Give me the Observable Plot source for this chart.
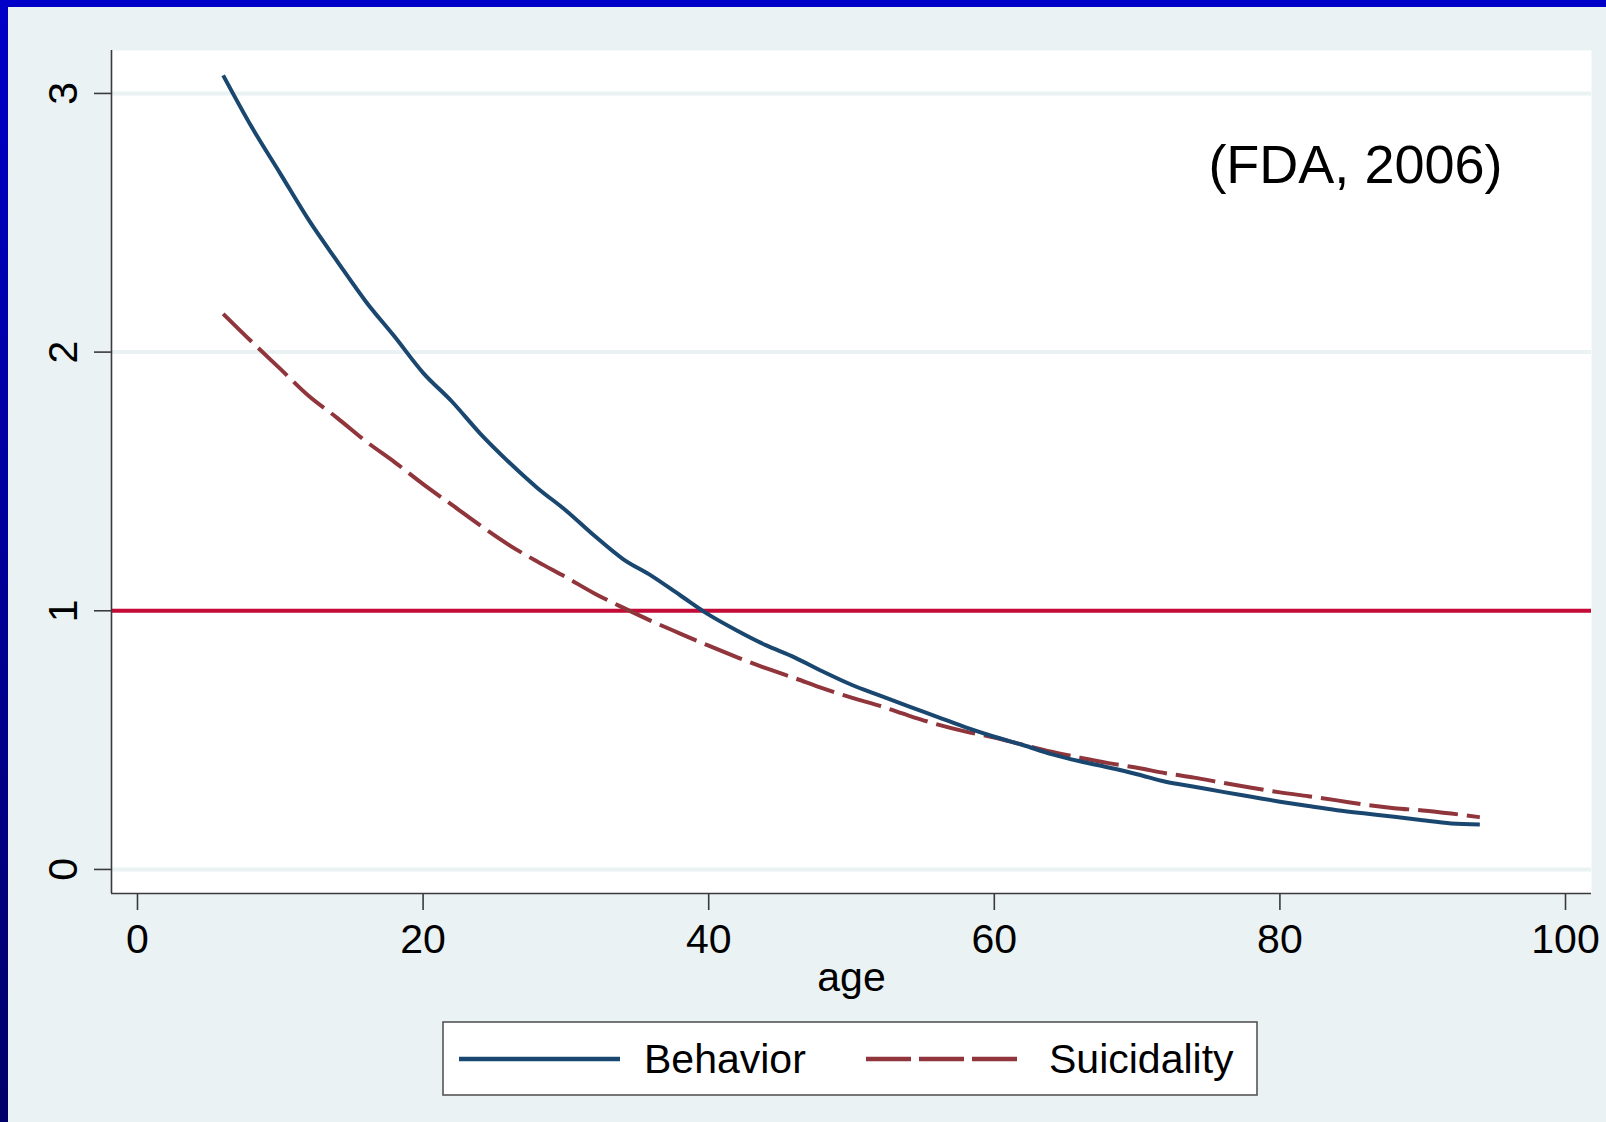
<!DOCTYPE html>
<html>
<head>
<meta charset="utf-8">
<script src="https://cdn.jsdelivr.net/npm/d3@7"></script>
<script src="https://cdn.jsdelivr.net/npm/@observablehq/plot@0.6"></script>
<style>
  html, body { margin: 0; padding: 0; }
  body {
    width: 1606px; height: 1122px; overflow: hidden; position: relative;
    background: linear-gradient(to bottom, #0000c8, #00006a);
    font-family: "Liberation Sans", Arial, sans-serif;
  }
  #panel { position: absolute; left: 8px; top: 7px; width: 1598px; height: 1115px; background: #eaf2f3; }
  #chart { position: absolute; left: 0; top: 0; }
  #legend { position: absolute; left: 0; top: 0; pointer-events: none; }
</style>
</head>
<body>
<div id="panel">
  <div id="chart"></div>
  <svg id="legend" width="1598" height="1115"></svg>
</div>
<script>
// ---- data ----
const ages = [6, 8, 10, 12, 14, 16, 18, 20, 22, 24, 26, 28, 30, 32, 34, 36, 38, 40, 42, 44, 46, 48,
              50, 52, 54, 56, 58, 60, 62, 64, 66, 68, 70, 72, 74, 76, 78, 80, 82, 84, 86, 88, 90, 92, 94];
const behavior = [3.07, 2.87, 2.69, 2.51, 2.35, 2.195, 2.06, 1.92, 1.81, 1.685, 1.575, 1.475, 1.388, 1.29,
                  1.20, 1.135, 1.06, 0.985, 0.923, 0.867, 0.820, 0.765, 0.714, 0.672, 0.630, 0.590, 0.549,
                  0.513, 0.481, 0.446, 0.418, 0.394, 0.368, 0.339, 0.320, 0.300, 0.281, 0.262, 0.245, 0.229,
                  0.216, 0.204, 0.190, 0.178, 0.174];
const suicidality = [2.148, 2.04, 1.935, 1.83, 1.745, 1.655, 1.575, 1.49, 1.41, 1.33, 1.255, 1.19, 1.13, 1.067,
                     1.012, 0.960, 0.912, 0.865, 0.820, 0.778, 0.740, 0.700, 0.664, 0.632, 0.595, 0.561, 0.533,
                     0.510, 0.482, 0.455, 0.432, 0.411, 0.393, 0.372, 0.355, 0.335, 0.316, 0.298, 0.283, 0.267,
                     0.250, 0.237, 0.228, 0.216, 0.202];
const seriesNames = ["Behavior", "Suicidality"];
const xTicks = [0, 20, 40, 60, 80, 100];
const yTicks = [0, 1, 2, 3];
const referenceValue = [1];
const xLabel = "age";
const note = "(FDA, 2006)";

// ---- styles ----
const colors = {Behavior: "#1a476f", Suicidality: "#90353b"};
const dashes = {Behavior: null, Suicidality: "40,9"};
const xDomain = [-1.82, 101.82];
const yDomain = [-0.093, 3.166];
const font = "'Liberation Sans', Arial, Helvetica, sans-serif";

const rows = [];
ages.forEach((a, i) => {
  rows.push({age: a, value: behavior[i], series: seriesNames[0]});
  rows.push({age: a, value: suicidality[i], series: seriesNames[1]});
});

const lineMarks = seriesNames.slice().reverse().map(name =>
  Plot.line(rows.filter(d => d.series === name), {
    x: "age", y: "value", stroke: colors[name], strokeWidth: 4,
    strokeDasharray: dashes[name] || undefined, strokeLinejoin: "round", strokeLinecap: "butt",
    curve: "monotone-x"
  })
);

const chart = Plot.plot({
  width: 1598,
  height: 1010,
  marginLeft: 103,
  marginRight: 15,
  marginTop: 43,
  marginBottom: 124,
  style: {background: "transparent", fontFamily: font, overflow: "visible"},
  x: {domain: xDomain, axis: null},
  y: {domain: yDomain, axis: null},
  marks: [
    Plot.frame({fill: "white", stroke: null}),
    Plot.ruleY(yTicks, {stroke: "#eaf2f3", strokeWidth: 4}),
    Plot.ruleY(referenceValue, {stroke: "#c50a38", strokeWidth: 4}),
    ...lineMarks,
    Plot.ruleX([xDomain[0]], {stroke: "#3a3a3a", strokeWidth: 1.6}),
    Plot.ruleY([yDomain[0]], {stroke: "#3a3a3a", strokeWidth: 1.6}),
    Plot.axisX(xTicks, {tickSize: 17, tickPadding: 13, fontSize: 41, stroke: "#3a3a3a", strokeWidth: 1.6,
                        fill: "black", label: null, tickFormat: d => String(d)}),
    Plot.axisY(yTicks, {tickSize: 17, stroke: "#3a3a3a", strokeWidth: 1.6, tickFormat: () => "", label: null}),
    Plot.text(yTicks, {y: d => d, frameAnchor: "left", dx: -48, rotate: -90, text: d => String(d),
                       fontSize: 41, fill: "black", textAnchor: "middle", lineAnchor: "middle"}),
    Plot.text([xLabel], {frameAnchor: "bottom", dy: 97, text: d => d, fontSize: 41, fill: "black",
                         lineAnchor: "bottom"}),
    Plot.text([note], {frameAnchor: "top-right", dx: -89, dy: 132, text: d => d, fontSize: 54,
                       fill: "black", textAnchor: "end", lineAnchor: "bottom"})
  ]
});
document.getElementById("chart").appendChild(chart);

// ---- legend (below the plot) ----
const lg = d3.select("#legend").style("font-family", font);
lg.append("rect").attr("x", 435).attr("y", 1015).attr("width", 814).attr("height", 73)
  .attr("fill", "white").attr("stroke", "#555").attr("stroke-width", 1.6);
const entries = [
  {name: seriesNames[0], x1: 451, x2: 612, tx: 636},
  {name: seriesNames[1], x1: 858, x2: 1014, tx: 1041}
];
entries.forEach(e => {
  lg.append("line").attr("x1", e.x1).attr("x2", e.x2).attr("y1", 1052).attr("y2", 1052)
    .attr("stroke", colors[e.name]).attr("stroke-width", 4.5)
    .attr("stroke-dasharray", dashes[e.name] ? "45,8" : null);
  lg.append("text").attr("x", e.tx).attr("y", 1066).attr("font-size", 41).attr("fill", "black")
    .text(e.name);
});
</script>
</body>
</html>
